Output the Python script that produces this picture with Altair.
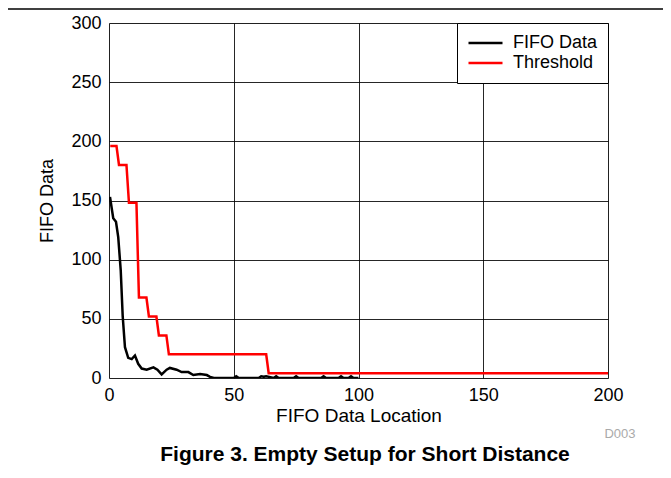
import altair as alt
import pandas as pd

fifo_x = [0.4, 1.7, 2.8, 3.7, 4.7, 5.5, 6.4, 7.7, 9.1, 10.4, 11.7, 13.1, 15.1, 17.8, 19.4, 21.1,
          23.1, 24.4, 27.1, 29.1, 31.8, 33.8, 36.5, 39.2, 40.5, 42, 50, 51, 52, 60, 61, 62, 63,
          66, 67, 68, 74, 75, 76, 85, 86, 87, 92, 93, 94, 96, 97, 98, 100]
fifo_y = [153, 135, 132, 119, 91, 52, 26, 17, 16, 19, 12, 8, 7, 9, 7, 3,
          7, 8.5, 7, 5, 5, 2.5, 3.4, 2.5, 1, 0, 0, 1.5, 0, 0, 1.5, 1, 1.5,
          0, 1.5, 0, 0, 1.5, 0, 0, 1.5, 0, 0, 1.5, 0, 0, 1.5, 0, 0]

thr_x = [0.5, 3, 4, 7, 8, 11, 12, 15, 16, 19, 20, 23, 24, 63, 64, 200]
thr_y = [196, 196, 180, 180, 148, 148, 68, 68, 52, 52, 36, 36, 20, 20, 4, 4]

series = ["FIFO Data", "Threshold"]
colors = ["black", "red"]

df = pd.concat([
    pd.DataFrame({"x": fifo_x, "y": fifo_y, "s": series[0], "o": range(len(fifo_x))}),
    pd.DataFrame({"x": thr_x, "y": thr_y, "s": series[1], "o": range(len(thr_x))}),
])

FONT = "Liberation Sans"

lines = alt.Chart(df).mark_line(strokeWidth=2.5, clip=True).encode(
    x=alt.X("x:Q", scale=alt.Scale(domain=[0, 200], nice=False),
            axis=alt.Axis(values=[0, 50, 100, 150, 200], title="FIFO Data Location",
                          grid=True, gridColor="black", gridWidth=1, gridOpacity=0.85,
                          domain=False, ticks=False, labelPadding=8, labelFlush=False,
                          labelFontSize=18, titleFontSize=19, titleFontWeight="normal",
                          labelColor="black", titleColor="black",
                          labelFont=FONT, titleFont=FONT, titlePadding=2)),
    y=alt.Y("y:Q", scale=alt.Scale(domain=[0, 300], nice=False),
            axis=alt.Axis(values=[0, 50, 100, 150, 200, 250, 300], title="FIFO Data",
                          grid=True, gridColor="black", gridWidth=1, gridOpacity=0.85,
                          domain=False, ticks=False, labelPadding=8, labelFlush=False,
                          labelFontSize=18, titleFontSize=18, titleFontWeight="normal",
                          labelColor="black", titleColor="black",
                          labelFont=FONT, titleFont=FONT, titlePadding=14)),
    color=alt.Color("s:N", scale=alt.Scale(domain=series, range=colors),
                    legend=alt.Legend(title=None, orient="top-right", offset=0,
                                      fillColor="white", strokeColor="black",
                                      padding=10, symbolType="stroke",
                                      symbolSize=1156, symbolStrokeWidth=2.5,
                                      labelFontSize=18, labelFont=FONT,
                                      labelColor="black", rowPadding=0,
                                      clipHeight=20, labelOffset=9)),
    order="o:Q",
)

top_rule = alt.Chart(pd.DataFrame({"a": [0]})).mark_rule(
    color="black", strokeWidth=1.5, clip=False
).encode(x=alt.value(-101), x2=alt.value(554), y=alt.value(-14))

fig_title = alt.Chart(pd.DataFrame({"t": ["Figure 3. Empty Setup for Short Distance"]})).mark_text(
    font=FONT, fontSize=21, fontWeight="bold", color="black", align="center", baseline="middle"
).encode(text="t:N", x=alt.value(256), y=alt.value(432))

code = alt.Chart(pd.DataFrame({"t": ["D003"]})).mark_text(
    font=FONT, fontSize=13, color="#aaaaaa", align="center", baseline="middle"
).encode(text="t:N", x=alt.value(511), y=alt.value(411))

chart = alt.layer(lines, top_rule, fig_title, code).properties(
    width=499, height=355,
    autosize=alt.AutoSizeParams(type="none"),
    padding={"left": 101, "top": 15, "right": 55, "bottom": 92},
).configure_view(stroke="black", strokeWidth=3).configure_legend(
    strokeWidth=2
).configure(background="white")

chart.save("out.html", embed_options={"renderer": "svg", "actions": False})
